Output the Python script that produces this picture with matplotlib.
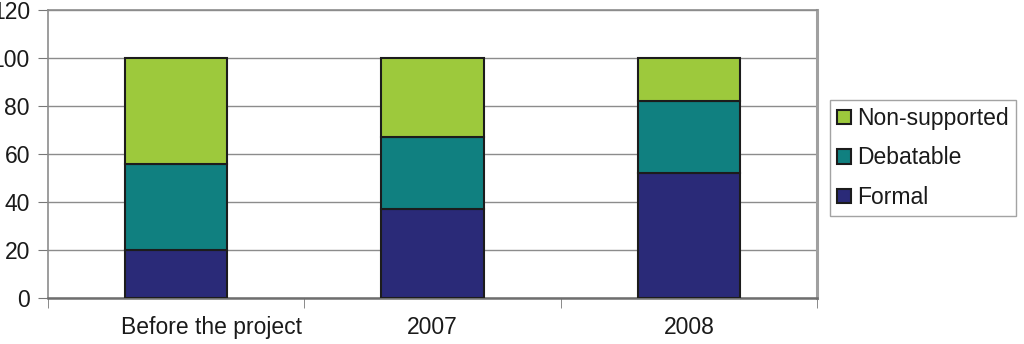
import matplotlib.pyplot as plt
import matplotlib.transforms as mtransforms
import numpy as np

categories = ["Before the project", "2007", "2008"]
formal = [20, 37, 52]
debatable = [36, 30, 30]
non_supported = [44, 33, 18]
y_ticks = [0, 20, 40, 60, 80, 100, 120]

plt.rcParams['font.family'] = ['Liberation Sans', 'DejaVu Sans']

fig = plt.figure(figsize=(10.24, 3.44), dpi=100)
ax = fig.add_axes([48 / 1024, 1 - 298 / 344, (817 - 48) / 1024, 288 / 344])

x = np.arange(len(categories))
edge = "#1c1c1c"
w = 0.4
b1 = ax.bar(x, formal, w, color="#2a2a78", edgecolor=edge, linewidth=1.5, label="Formal", zorder=3)
bottom2 = np.array(formal)
b2 = ax.bar(x, debatable, w, bottom=bottom2, color="#108080", edgecolor=edge, linewidth=1.5,
            label="Debatable", zorder=3)
bottom3 = bottom2 + np.array(debatable)
b3 = ax.bar(x, non_supported, w, bottom=bottom3, color="#9dc93c", edgecolor=edge, linewidth=1.5,
            label="Non-supported", zorder=3)

ax.set_xlim(-0.5, 2.5)
ax.set_ylim(0, 120)
ax.set_yticks(y_ticks)
ax.yaxis.grid(True, color="#8c8c8c", linewidth=1.0, zorder=0)
ax.set_xticks(x)
ax.set_xticklabels(categories)
ax.set_xticks([-0.5, 0.5, 1.5, 2.5], minor=True)
ax.tick_params(axis='x', which='major', length=0, pad=13, labelsize=16.5, colors="#1a1a1a")
ax.tick_params(axis='x', which='minor', length=7, color="#777777", direction='out')
ax.tick_params(axis='y', length=7, color="#777777", pad=6, labelsize=16.5, labelcolor="#1a1a1a")

# the first category label sits a bit right of its bar, as in the original
lbl = ax.get_xticklabels()[0]
lbl.set_transform(lbl.get_transform() + mtransforms.ScaledTranslation(0.35, 0, fig.dpi_scale_trans))

for s in ['left', 'top']:
    ax.spines[s].set_color("#8c8c8c")
    ax.spines[s].set_linewidth(1.2)
ax.spines['bottom'].set_color("#6e6e6e")
ax.spines['bottom'].set_linewidth(1.8)
ax.spines['right'].set_color("#a0a0a0")
ax.spines['right'].set_linewidth(2.2)

leg = fig.legend(handles=[b3, b2, b1], labels=["Non-supported", "Debatable", "Formal"],
                 loc='upper left', bbox_to_anchor=(830 / 1024, 1 - 100 / 344),
                 fontsize=16.5, frameon=True, fancybox=False, handlelength=0.6, handleheight=0.6,
                 handletextpad=0.3, labelspacing=0.72, borderpad=0.3, borderaxespad=0)
leg.get_frame().set_edgecolor("#8c8c8c")
leg.get_frame().set_linewidth(1.0)
for t in leg.get_texts():
    t.set_color("#1a1a1a")

fig.savefig("out.png", dpi=100)
